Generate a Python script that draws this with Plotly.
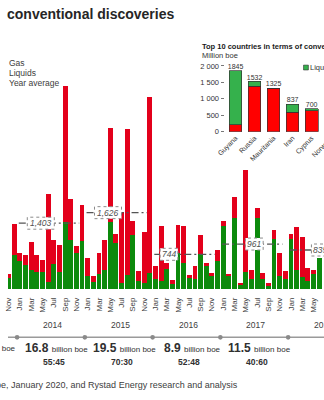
import plotly.graph_objects as go

W, H = 324, 400

# ---- monthly discoveries, Nov 2013 - Jun 2018 (million boe) ----
month_names = ["Jan", "Feb", "Mar", "Apr", "May", "Jun",
               "Jul", "Aug", "Sep", "Oct", "Nov", "Dec"]
months = ["Nov", "Dec"] + month_names * 4 + month_names[:6]

liquids = [248, 720, 595, 525, 410, 365, 375, 165, 545, 375, 1430, 1040, 765, 1020,
           285, 165, 330, 420, 1420, 975, 145, 305, 1145, 180, 145, 350,
           215, 180, 440, 125, 765, 565, 250, 215, 745, 490, 285, 595,
           1340, 285, 1510, 110, 375, 215, 1510, 215, 75, 1075, 285, 215,
           1075, 420, 260, 180, 330, 675]
gas = [82, 670, 170, 205, 585, 355, 240, 1865, 510, 565, 2875, 865, 150, 760,
       390, 120, 435, 620, 2000, 205, 1495, 3090, 310, 205, 1070, 3730,
       275, 1160, 120, 70, 600, 770, 65, 275, 400, 70, 65, 240,
       115, 45, 450, 35, 2150, 205, 205, 135, 70, 175, 480, 170,
       105, 900, 850, 275, 90, 0]

# ---- yearly summary ----
years = [2014, 2015, 2016, 2017, 2018]
year_avg = [1403, 1626, 744, 961, 835]
year_total = ["16.8", "19.5", "8.9", "11.5", "10"]
year_split = ["55:45", "70:30", "52:48", "40:60", "43:57"]
avg_label_pos = [5.7, 17.6, 28.4, 43.5, 55.2]

# ---- inset: top countries ----
countries = ["Guyana", "Russia", "Mauritania", "Iran", "Cyprus", "Norway"]
inset_gas = [220, 1386, 1325, 585, 635, 520]
inset_liq = [1625, 146, 0, 252, 65, 80]
inset_tot = [g + l for g, l in zip(inset_gas, inset_liq)]

RED = "#e3001b"
GREEN = "#0c8a0c"
IN_RED = "#ff0000"
IN_GREEN = "#35b14c"
TXT = "#404040"
FONT = "Arial, Liberation Sans, sans-serif"


def X(px):
    return px / W


def Y(py):
    return 1 - py / H


idx = list(range(len(months)))
jan_idx = [2 + 12 * (y - 2014) for y in years]

fig = go.Figure()
fig.add_bar(x=idx, y=liquids, width=0.86, name="Liquids",
            marker=dict(color=GREEN, line_width=0), xaxis="x", yaxis="y")
fig.add_bar(x=idx, y=gas, width=0.86, name="Gas",
            marker=dict(color=RED, line_width=0), xaxis="x", yaxis="y")

cidx = list(range(len(countries)))
fig.add_bar(x=cidx, y=inset_gas, width=0.67, name="Gas",
            marker=dict(color=IN_RED, line=dict(color="#333333", width=0.7)),
            xaxis="x2", yaxis="y2")
fig.add_bar(x=cidx, y=inset_liq, width=0.67, name="Liquids",
            marker=dict(color=IN_GREEN, line=dict(color="#333333", width=0.7)),
            xaxis="x2", yaxis="y2")
fig.add_scatter(x=cidx[:5], y=inset_tot[:5], mode="text",
                text=[str(t) for t in inset_tot[:5]],
                textposition="top center", textfont=dict(size=7, color="#333333"),
                cliponaxis=False, xaxis="x2", yaxis="y2", hoverinfo="skip")

shapes = []
annotations = []


def ann(text, x, y, size, xanchor="left", yanchor="middle", xref="paper",
        yref="paper", color=TXT, **kw):
    annotations.append(dict(text=text, x=x, y=y, xref=xref, yref=yref,
                            xanchor=xanchor, yanchor=yanchor, showarrow=False,
                            font=dict(size=size, color=color, family=FONT), **kw))


# year average lines with value boxes
for j, avg in zip(jan_idx, year_avg):
    shapes.append(dict(type="line", xref="x", yref="y", x0=j - 0.2, x1=j + 10.5,
                       y0=avg, y1=avg, layer="above",
                       line=dict(color="#555555", width=1.3, dash="7px,3px,2px,3px")))
for avg, pos in zip(year_avg, avg_label_pos):
    label = f"{avg:,}"
    w = 4.6 * len(label) + 4
    shapes.append(dict(type="rect", xref="x", yref="y", xsizemode="pixel",
                       ysizemode="pixel", xanchor=pos, yanchor=avg,
                       x0=-w / 2, x1=w / 2, y0=-6, y1=6, layer="above",
                       fillcolor="white", line=dict(color="#8a8a8a", width=1, dash="dot")))
    ann(f"<i>{label}</i>", pos, avg, 8.5, "center", "middle", "x", "y", color="#505050")

# timeline under the axis
shapes.append(dict(type="line", xref="paper", yref="paper", x0=0, x1=1,
                   y0=Y(341), y1=Y(341), line=dict(color="#9a9a9a", width=1.5)))
for j in jan_idx:
    shapes.append(dict(type="circle", xref="x", yref="paper", xsizemode="pixel",
                       ysizemode="pixel", xanchor=j - 0.5, yanchor=Y(341),
                       x0=-2.3, x1=2.3, y0=-2.3, y1=2.3,
                       fillcolor="#8a8a8a", line=dict(width=0)))

for y, j, tot, split in zip(years, jan_idx, year_total, year_split):
    mid = j + 5.5
    ann(str(y), mid + 0.3, Y(328), 8.5, "center", "middle", "x", "paper")
    ann(f"<b>{tot}</b> <span style='font-size:8px'>billion boe</span>",
        mid + 1.0, Y(352), 12, "center", "middle", "x", "paper", color="#303030")
    ann(f"<b>{split}</b>", mid + 0.5, Y(366), 8.5, "center", "middle", "x", "paper",
        color="#303030")
ann("billion boe", X(10), Y(352), 8, "right", "middle", color="#303030")

# titles, legend, source
ann("<b>conventional discoveries</b>", X(-3), Y(10.5), 14, "left", "middle",
    color="#262626")
ann("Gas", X(-1), Y(60), 8.5)
ann("Liquids", X(-1), Y(70.5), 8.5)
ann("Year average", X(-1), Y(80.5), 8.5)
ann("Source: Rystad Energy UCube, January 2020, and Rystad Energy research and analysis",
    X(238), Y(390), 9, "right", "middle")

ann("<b>Top 10 countries in terms of conventional discoveries</b>", X(197), Y(43.3),
    7.5, "left", "middle", color="#1a1a1a")
ann("Million boe", X(197), Y(52.3), 7.5, "left", "middle", color="#333333")
shapes.append(dict(type="rect", xref="paper", yref="paper", x0=X(303), x1=X(308),
                   y0=Y(67.5), y1=Y(62.5), fillcolor=IN_GREEN,
                   line=dict(color="#333333", width=0.6)))
ann("Liquids", X(307.5), Y(65), 7.5, "left", "middle", color="#333333")
ann(countries[5], X(336), Y(133), 7, "right", "top", color="#333333", textangle=-45)

fig.update_layout(
    width=W, height=H, margin=dict(l=0, r=0, t=0, b=0),
    paper_bgcolor="white", plot_bgcolor="white",
    barmode="stack", showlegend=False,
    font=dict(family=FONT, color=TXT),
    xaxis=dict(domain=[0, 1], range=[-0.107, 55.85], tickmode="array",
               tickvals=idx[::2], ticktext=months[::2], tickangle=-90,
               tickfont=dict(size=8, color=TXT), showgrid=False, zeroline=False,
               showline=False, ticks="outside", ticklen=4,
               tickcolor="rgba(0,0,0,0)", anchor="y"),
    yaxis=dict(domain=[Y(292), Y(60)], range=[0, 232 / 0.0483], visible=False,
               anchor="x"),
    xaxis2=dict(domain=[X(222), 1], range=[-0.58, 4.65], tickmode="array",
                tickvals=cidx[:5], ticktext=countries[:5], tickangle=-45,
                tickfont=dict(size=7, color="#333333"), showgrid=False,
                zeroline=False, ticks="", anchor="y2"),
    yaxis2=dict(domain=[Y(130.7), Y(63.3)], range=[0, 2000], tickmode="array",
                tickvals=[0, 500, 1000, 1500, 2000],
                ticktext=["0", "500", "1 000", "1 500", "2 000"],
                tickfont=dict(size=7.5, color="#333333"), showgrid=False,
                zeroline=False, ticks="outside", ticklen=3, tickcolor="#777777",
                anchor="x2"),
    shapes=shapes, annotations=annotations,
)

fig.write_html("out.html")
